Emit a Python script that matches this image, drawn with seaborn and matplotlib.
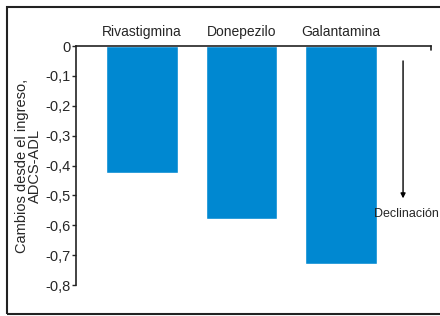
import matplotlib
matplotlib.use("Agg")
import matplotlib.pyplot as plt
import matplotlib.patches as mpatches
import seaborn as sns
import pandas as pd

# Data
farmacos = ["Rivastigmina", "Donepezilo", "Galantamina"]
cambios = [-0.425, -0.58, -0.73]
yticks = [0, -0.1, -0.2, -0.3, -0.4, -0.5, -0.6, -0.7, -0.8]

df = pd.DataFrame({"farmaco": farmacos, "cambio": cambios})

sns.set_style("white")
plt.rcParams["font.family"] = ["Liberation Sans Narrow", "Liberation Sans", "DejaVu Sans"]

fig = plt.figure(figsize=(4.4, 3.16), dpi=100)
ax = fig.add_axes([0.1727, 0.0981, 0.8068, 0.7563])

sns.barplot(data=df, x="farmaco", y="cambio", color="#0088D1", saturation=1,
            width=0.72, ax=ax)

ax.set_ylim(-0.8, 0)
ax.set_xlim(-0.66, 2.9)
ax.set_yticks(yticks)
ax.set_yticklabels(["0" if v == 0 else f"{v:.1f}".replace(".", ",") for v in yticks],
                   fontsize=10.5)
ax.tick_params(axis="y", direction="out", length=3, width=1, pad=1, left=True)

# category labels on top
ax.xaxis.tick_top()
ax.tick_params(axis="x", length=0, pad=5, labelsize=10)
ax.set_xlabel("")
ax.set_ylabel("Cambios desde el ingreso,\nADCS-ADL", fontsize=10.5, linespacing=0.95,
              labelpad=2)

for side in ["right", "bottom"]:
    ax.spines[side].set_visible(False)
for side in ["left", "top"]:
    ax.spines[side].set_color("#222222")
    ax.spines[side].set_linewidth(1.2)

# small tick at right end of zero line
ax.plot([2.9, 2.9], [0, -0.012], color="#222222", lw=1.2, clip_on=False)

# declination arrow
ax.annotate("", xy=(2.62, -0.51), xytext=(2.62, -0.05),
            arrowprops=dict(arrowstyle="-|>", color="black", lw=1,
                            mutation_scale=7, shrinkA=0, shrinkB=0))
ax.text(2.655, -0.563, "Declinación", ha="center", va="center", fontsize=9)

# frame around the figure (cut off on the right)
fig.patches.append(mpatches.Rectangle((7 / 440, 2 / 316), 1.0, 307 / 316,
                                      transform=fig.transFigure, fill=False,
                                      edgecolor="#222222", linewidth=1.5))

fig.savefig("out.png", dpi=100)
